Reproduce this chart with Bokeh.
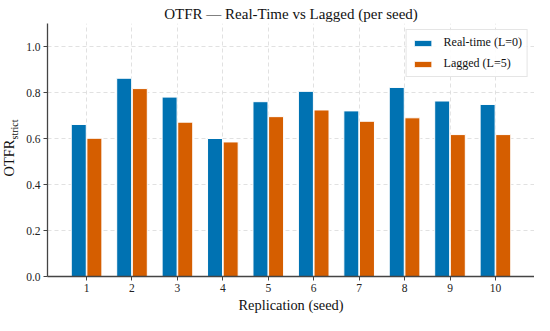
import math
from bokeh.plotting import figure
from bokeh.models import Range1d, FixedTicker, Title, Legend, LegendItem, NumeralTickFormatter
from bokeh.embed import file_html
from bokeh.resources import INLINE

seeds = [1, 2, 3, 4, 5, 6, 7, 8, 9, 10]
realtime = [0.661, 0.862, 0.780, 0.600, 0.760, 0.805, 0.720, 0.822, 0.763, 0.748]
lagged = [0.601, 0.817, 0.671, 0.585, 0.695, 0.724, 0.675, 0.690, 0.617, 0.617]
y_ticks = [0.0, 0.2, 0.4, 0.6, 0.8, 1.0]

BLUE = "#0072B2"
ORANGE = "#D55E00"
FONT = "Liberation Serif"

p = figure(width=534, height=315, output_backend="svg", toolbar_location=None,
           x_range=Range1d(0.14, 10.86), y_range=Range1d(0, 1.1),
           min_border_left=47, min_border_right=0, min_border_top=23, min_border_bottom=38,
           title="OTFR \u2014 Real-Time vs Lagged (per seed)")
p.title.align = "center"
p.title.text_font = FONT
p.title.text_font_size = "15px"
p.title.text_font_style = "normal"
p.title.text_color = "#111111"
p.title.standoff = 3
p.outline_line_color = None

off = 0.172
w = 0.33
r1 = p.vbar(x=[s - off for s in seeds], top=realtime, width=w, fill_color=BLUE,
            line_color="white", line_width=1)
r2 = p.vbar(x=[s + off for s in seeds], top=lagged, width=w, fill_color=ORANGE,
            line_color="white", line_width=1)

legend = Legend(items=[LegendItem(label="Real-time (L=0)", renderers=[r1]),
                       LegendItem(label="Lagged (L=5)", renderers=[r2])],
                location="top_right")
legend.label_text_font = FONT
legend.label_text_font_size = "12px"
legend.label_text_color = "#111111"
legend.glyph_width = 22
legend.glyph_height = 8
legend.label_standoff = 10
legend.spacing = 6
legend.padding = 5
legend.margin = 6
legend.label_height = 13
legend.border_line_color = "#cccccc"
legend.background_fill_alpha = 0.9
p.add_layout(legend)

for ax in (p.xaxis, p.yaxis):
    ax.axis_line_color = "#444444"
    ax.axis_line_width = 1.3
    ax.major_tick_line_color = "#444444"
    ax.major_tick_out = 4
    ax.major_tick_in = 0
    ax.minor_tick_line_color = None
    ax.major_label_text_font = FONT
    ax.major_label_text_font_size = "11.5px"
    ax.major_label_text_color = "#222222"
    ax.major_label_standoff = 3

p.xaxis.ticker = FixedTicker(ticks=seeds)
p.yaxis.ticker = FixedTicker(ticks=y_ticks)
p.yaxis.formatter = NumeralTickFormatter(format="0.0")
p.xaxis.axis_label = "Replication (seed)"
p.xaxis.axis_label_text_font = FONT
p.xaxis.axis_label_text_font_size = "14.4px"
p.xaxis.axis_label_text_font_style = "normal"
p.xaxis.axis_label_standoff = 2
p.xaxis.axis_label_text_color = "#111111"

for g in (p.xgrid, p.ygrid):
    g.grid_line_color = "#d9d9d9"
    g.grid_line_dash = "4 3"
    g.grid_line_width = 0.8
p.xgrid.ticker = FixedTicker(ticks=seeds)
p.ygrid.ticker = FixedTicker(ticks=y_ticks)

# y-axis label "OTFR" with subscript "strict", as side-panel titles
t_sub = Title(text="strict", align="left", vertical_align="top", offset=137, standoff=3,
              text_font=FONT, text_font_size="10px", text_font_style="normal",
              text_color="#111111")
p.add_layout(t_sub, "left")
t_main = Title(text="OTFR", align="left", vertical_align="bottom", offset=100, standoff=-18,
               text_font=FONT, text_font_size="14.4px", text_font_style="normal",
               text_color="#111111")
p.add_layout(t_main, "left")

open("out.html", "w").write(file_html(p, INLINE))
